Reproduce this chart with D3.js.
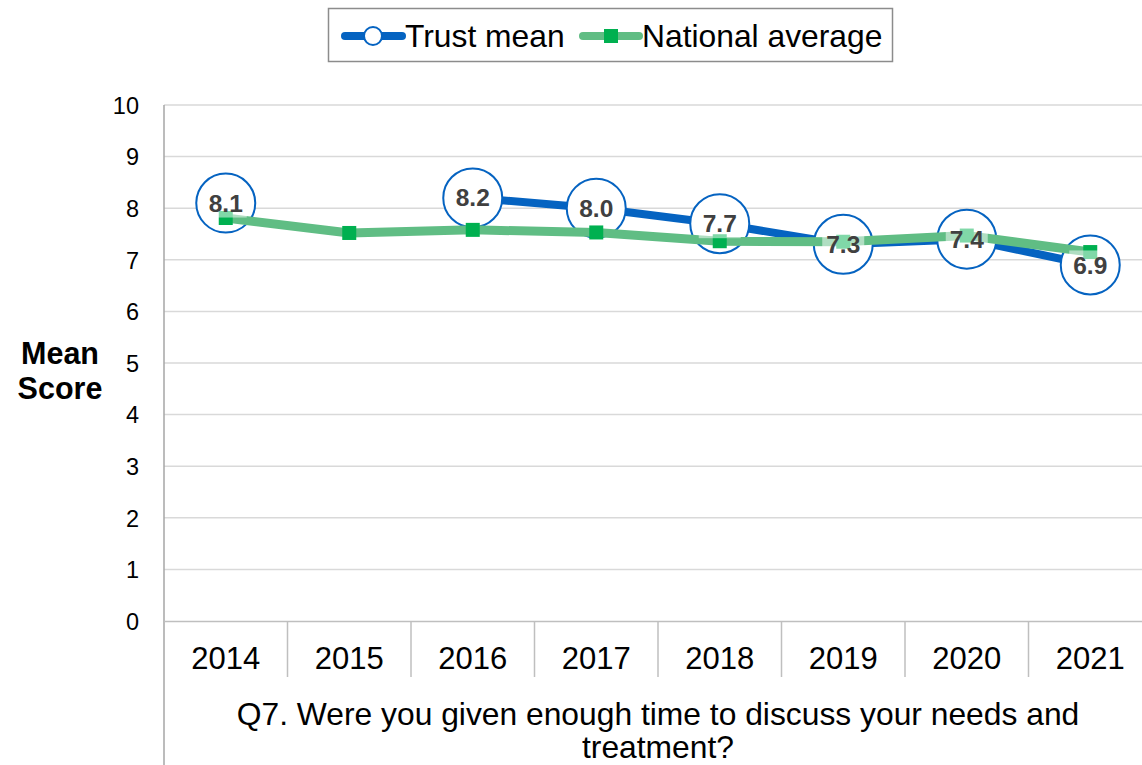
<!DOCTYPE html>
<html>
<head>
<meta charset="utf-8">
<script src="https://cdn.jsdelivr.net/npm/d3@7"></script>
<style>
  html, body { margin: 0; padding: 0; background: #fff; }
  svg { display: block; font-family: "Liberation Sans", Arial, sans-serif; }
</style>
</head>
<body>
<svg id="chart" width="1142" height="765"></svg>
<script>
// ---- data ----
const years = ["2014", "2015", "2016", "2017", "2018", "2019", "2020", "2021"];
const trustMean = [8.1, null, 8.2, 8.0, 7.7, 7.3, 7.4, 6.9];
const nationalAverage = [7.81, 7.52, 7.58, 7.53, 7.36, 7.35, 7.47, 7.15];
const yTicks = [0, 1, 2, 3, 4, 5, 6, 7, 8, 9, 10];
const seriesNames = ["Trust mean", "National average"];
const yAxisTitle = ["Mean", "Score"];
const xAxisTitle = ["Q7. Were you given enough time to discuss your needs and", "treatment?"];

// ---- layout ----
const svg = d3.select("#chart");
const plot = { left: 164, right: 1152, top: 105, bottom: 621 };
const blue = "#0563C1";
const greenLine = "#60BD84";
const greenMarker = "#00B050";

const x = d3.scaleBand().domain(years).range([plot.left, plot.right]).padding(0);
const y = d3.scaleLinear().domain([0, 10]).range([plot.bottom, plot.top]);

// gridlines
svg.append("g").selectAll("line").data(yTicks.filter(d => d > 0)).join("line")
  .attr("x1", plot.left).attr("x2", plot.right)
  .attr("y1", d => y(d)).attr("y2", d => y(d))
  .attr("stroke", "#d9d9d9").attr("stroke-width", 1.5);

// y axis
const yAxis = d3.axisLeft(y).tickValues(yTicks).tickSize(0).tickPadding(0).tickFormat(d3.format("d"));
const gy = svg.append("g").attr("transform", `translate(139,0)`).call(yAxis);
gy.select(".domain").remove();
gy.selectAll("text").attr("font-size", 23.5).attr("fill", "#000")
  .attr("font-family", "'Liberation Sans', Arial, sans-serif").attr("dy", "0.35em");

// left axis line (extends to bottom of picture)
svg.append("line").attr("x1", plot.left).attr("x2", plot.left)
  .attr("y1", plot.top).attr("y2", 765)
  .attr("stroke", "#a6a6a6").attr("stroke-width", 1.5);

// x axis
const xAxis = d3.axisBottom(x).tickSize(0).tickPadding(0);
const gx = svg.append("g").attr("transform", `translate(0,${plot.bottom})`).call(xAxis);
gx.select(".domain").attr("stroke", "#bfbfbf").attr("stroke-width", 1.5);
gx.selectAll("text").attr("font-size", 31).attr("fill", "#000")
  .attr("font-family", "'Liberation Sans', Arial, sans-serif")
  .attr("dy", null).attr("y", 48);

// category separators
svg.append("g").selectAll("line").data(years.slice(1)).join("line")
  .attr("x1", d => x(d)).attr("x2", d => x(d))
  .attr("y1", plot.bottom).attr("y2", 677)
  .attr("stroke", "#bfbfbf").attr("stroke-width", 1.5);

// axis titles
const yt = svg.append("text").attr("text-anchor", "middle").attr("font-size", 30.5)
  .attr("font-weight", "bold").attr("fill", "#000");
yAxisTitle.forEach((t, i) => yt.append("tspan").attr("x", 60).attr("y", 364 + i * 34.5).text(t));

const xt = svg.append("text").attr("text-anchor", "middle").attr("font-size", 31.8).attr("fill", "#000");
const xMid = (plot.left + plot.right) / 2;
xAxisTitle.forEach((t, i) => xt.append("tspan").attr("x", xMid).attr("y", 725 + i * 33).text(t));

// ---- series ----
const idx = years.map((d, i) => i);
const cx = i => x(years[i]) + x.bandwidth() / 2;

// trust line
const trustLine = d3.line().defined(i => trustMean[i] != null).x(cx).y(i => y(trustMean[i]));
svg.append("path").attr("d", trustLine(idx)).attr("fill", "none")
  .attr("stroke", blue).attr("stroke-width", 8).attr("stroke-linejoin", "round");

// trust circles
const trustIdx = idx.filter(i => trustMean[i] != null);
svg.append("g").selectAll("circle").data(trustIdx).join("circle")
  .attr("cx", cx).attr("cy", i => y(trustMean[i])).attr("r", 29.5)
  .attr("fill", "#fff").attr("stroke", blue).attr("stroke-width", 2);

// national line
const natLine = d3.line().x(cx).y(i => y(nationalAverage[i]));
svg.append("path").attr("d", natLine(idx)).attr("fill", "none")
  .attr("stroke", greenLine).attr("stroke-width", 9).attr("stroke-linejoin", "round");

// national markers
svg.append("g").selectAll("rect").data(idx).join("rect")
  .attr("x", i => cx(i) - 7).attr("y", i => y(nationalAverage[i]) - 7)
  .attr("width", 14).attr("height", 14).attr("fill", greenMarker);

// data labels with semi-transparent white background
const fmt = d3.format(".1f");
const lab = svg.append("g").selectAll("g").data(trustIdx).join("g")
  .attr("transform", i => `translate(${cx(i)},${y(trustMean[i])})`);
lab.append("rect").attr("x", -21).attr("y", -14.5).attr("width", 42).attr("height", 29)
  .attr("fill", "#fff").attr("fill-opacity", 0.5);
lab.append("text").attr("text-anchor", "middle").attr("dy", "0.35em")
  .attr("font-size", 24.5).attr("font-weight", "bold").attr("fill", "#404040")
  .text(i => fmt(trustMean[i]));

// ---- legend ----
const lg = svg.append("g");
lg.append("rect").attr("x", 328.5).attr("y", 8.5).attr("width", 564).attr("height", 53)
  .attr("fill", "#fff").attr("stroke", "#8c8c8c").attr("stroke-width", 1.5);
const ly = 36;
lg.append("line").attr("x1", 345).attr("x2", 402).attr("y1", ly).attr("y2", ly)
  .attr("stroke", blue).attr("stroke-width", 8).attr("stroke-linecap", "round");
lg.append("circle").attr("cx", 373).attr("cy", ly).attr("r", 9)
  .attr("fill", "#fff").attr("stroke", blue).attr("stroke-width", 2);
lg.append("text").attr("x", 405).attr("y", ly).attr("dy", "0.35em").attr("font-size", 31.8)
  .attr("fill", "#000").text(seriesNames[0]);
lg.append("line").attr("x1", 583).attr("x2", 639).attr("y1", ly).attr("y2", ly)
  .attr("stroke", greenLine).attr("stroke-width", 8).attr("stroke-linecap", "round");
lg.append("rect").attr("x", 604).attr("y", ly - 7).attr("width", 14).attr("height", 14).attr("fill", greenMarker);
lg.append("text").attr("x", 642).attr("y", ly).attr("dy", "0.35em").attr("font-size", 31.8)
  .attr("fill", "#000").text(seriesNames[1]);
</script>
</body>
</html>
